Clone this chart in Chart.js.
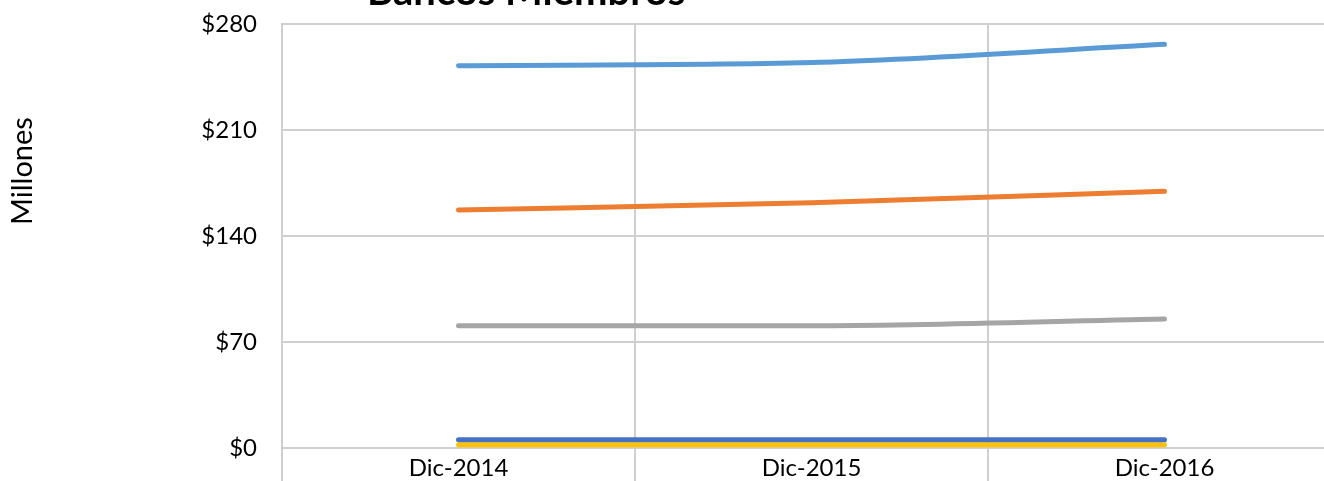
<!DOCTYPE html>
<html lang="es">
<head>
<meta charset="utf-8">
<title>Bancos Miembros</title>
<script src="https://cdn.jsdelivr.net/npm/chart.js@4.4.1/dist/chart.umd.min.js"></script>
<style>
  html, body { margin: 0; padding: 0; overflow: hidden; background: #ffffff; }
  #wrap { width: 1345px; height: 481px; position: relative; }
</style>
</head>
<body>
<div id="wrap"><canvas id="bancosChart"></canvas></div>
<script>
// --- Data (millones de dolares) ---
const categories = ['Dic-2014', 'Dic-2015', 'Dic-2016'];
const yTicks = [0, 70, 140, 210, 280];

const serieAzul = [252.5, 254.5, 266.6];
const serieNaranja = [157.2, 161.9, 169.5];
const serieGris = [80.8, 80.8, 85.2];
const serieAzulOscuro = [5.5, 5.5, 5.5];
const serieAmarilla = [2.2, 2.2, 2.2];

const chartTitle = 'Bancos Miembros';
const axisTitle = 'Millones';

// Office-style palette
const colors = {
  blue: '#5b9bd5',
  orange: '#ed7d31',
  gray: '#a5a5a5',
  yellow: '#ffc000',
  darkBlue: '#4472c4',
  grid: '#cfcfcf',
  text: '#000000'
};

const FONT = 'Lato, "Open Sans", sans-serif';

/**
 * Draws the (cropped) chart title and the rotated axis caption,
 * which sit outside the spots Chart.js would put them.
 */
const captionsPlugin = {
  id: 'captions',
  afterDraw(chart) {
    const { ctx, chartArea } = chart;
    ctx.save();
    ctx.fillStyle = '#000000';
    ctx.font = 'bold 40px ' + FONT;
    ctx.textAlign = 'left';
    ctx.textBaseline = 'alphabetic';
    ctx.fillText(chartTitle, chartArea.left + 85, 5);

    ctx.fillStyle = colors.text;
    ctx.font = '29px ' + FONT;
    ctx.translate(23, 171);
    ctx.rotate(-Math.PI / 2);
    ctx.textAlign = 'center';
    ctx.textBaseline = 'middle';
    ctx.fillText(axisTitle, 0, 0);
    ctx.restore();
  }
};

function lineSet(label, data, color) {
  return {
    label: label,
    data: data,
    borderColor: color,
    backgroundColor: color,
    borderWidth: 5,
    borderCapStyle: 'round',
    cubicInterpolationMode: 'monotone',
    pointRadius: 0,
    fill: false
  };
}

const datasets = [
  lineSet('Serie 1', serieAzul, colors.blue),
  lineSet('Serie 2', serieNaranja, colors.orange),
  lineSet('Serie 3', serieGris, colors.gray),
  lineSet('Serie 5', serieAzulOscuro, colors.darkBlue),
  lineSet('Serie 4', serieAmarilla, colors.yellow)
];

new Chart(document.getElementById('bancosChart'), {
  type: 'line',
  data: { labels: categories, datasets: datasets },
  options: {
    responsive: true,
    maintainAspectRatio: false,
    animation: false,
    layout: { padding: { top: 24, right: 4, bottom: 0, left: 0 } },
    plugins: {
      legend: { display: false },
      tooltip: { enabled: false },
      title: { display: false }
    },
    scales: {
      x: {
        offset: true,
        afterFit: scale => { scale.height = 33; },
        grid: {
          offset: true,
          color: colors.grid,
          lineWidth: 2,
          drawTicks: true,
          tickLength: 40
        },
        border: { color: colors.grid, width: 2 },
        ticks: {
          color: '#000000',
          font: { family: FONT, size: 24 },
          padding: -34,
          maxRotation: 0
        }
      },
      y: {
        min: 0,
        max: 280,
        // tick padding would otherwise push the plot area down and up
        afterFit: scale => {
          scale.width = 282;
          scale.paddingTop = 0;
          scale.paddingBottom = 0;
        },
        afterBuildTicks: scale => { scale.ticks = yTicks.map(v => ({ value: v })); },
        grid: {
          color: colors.grid,
          lineWidth: 2,
          drawTicks: false
        },
        border: { color: colors.grid, width: 2 },
        ticks: {
          color: '#000000',
          font: { family: FONT, size: 24 },
          padding: 25,
          callback: v => '$' + v
        }
      }
    }
  },
  plugins: [captionsPlugin]
});
</script>
</body>
</html>
